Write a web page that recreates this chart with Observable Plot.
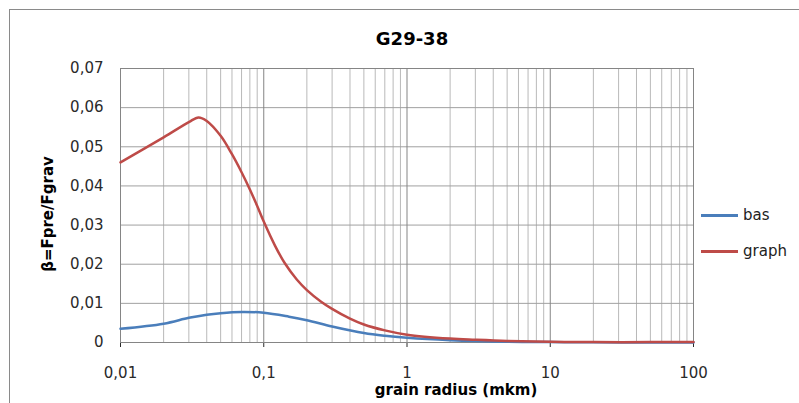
<!DOCTYPE html>
<html>
<head>
<meta charset="utf-8">
<script src="https://cdn.jsdelivr.net/npm/d3@7"></script>
<script src="https://cdn.jsdelivr.net/npm/@observablehq/plot@0.6"></script>
<style>
  html, body { margin: 0; padding: 0; background: #fff; }
  #wrap { position: relative; width: 799px; height: 403px; overflow: hidden; font-family: "DejaVu Sans", sans-serif; }
  #border { position: absolute; left: 9px; top: 9px; width: 820px; height: 420px; border: 1px solid #8a8a8a; box-sizing: border-box; }
  #title { position: absolute; left: 375px; width: 74px; top: 28px; text-align: center; font-weight: bold; font-size: 18px; line-height: 22px; color: #000; white-space: nowrap; }
  #ylab { position: absolute; left: 48px; top: 214px; transform: translate(-50%, -50%) rotate(-90deg); white-space: nowrap; font-weight: bold; font-size: 15px; line-height: 18px; color: #000; }
  #xlab { position: absolute; left: 456px; top: 381px; transform: translateX(-50%); white-space: nowrap; font-weight: bold; font-size: 15px; line-height: 18px; color: #000; }
  .leg { position: absolute; left: 701px; font-size: 15px; line-height: 18px; color: #222; display: flex; align-items: center; }
  .leg span.sw { display: inline-block; width: 37px; height: 3px; margin-right: 5px; }
  svg { position: absolute; left: 0; top: 0; }
</style>
</head>
<body>
<div id="wrap">
  <div id="border"></div>
  <div id="chart"></div>
  <div id="title">G29-38</div>
  <div id="ylab">β=Fpre/Fgrav</div>
  <div id="xlab">grain radius (mkm)</div>
</div>
<script>
const seriesNames = ["bas", "graph"];
const seriesColors = ["#4a7ebb", "#be4b48"];
const radiusBas = [0.01, 0.02, 0.03, 0.04, 0.05, 0.07, 0.1, 0.15, 0.2, 0.3, 0.5, 0.7, 1, 2, 5, 10, 20, 50, 100];
const bas =       [0.0035, 0.0048, 0.0063, 0.0071, 0.0075, 0.0078, 0.0076, 0.0066, 0.0057, 0.0041, 0.0024, 0.0017, 0.0012, 0.0006, 0.0002, 0.0001, 0.00005, 0, 0];
const radiusGraph = [0.01, 0.02, 0.03, 0.035, 0.04, 0.05, 0.06, 0.07, 0.08, 0.09, 0.1, 0.12, 0.14, 0.17, 0.2, 0.25, 0.3, 0.4, 0.5, 0.7, 1, 2, 3, 5, 10, 20, 50, 100];
const graph =       [0.0460, 0.0524, 0.0563, 0.0575, 0.0566, 0.0528, 0.0481, 0.0435, 0.0391, 0.0349, 0.0309, 0.0247, 0.0203, 0.0161, 0.0134, 0.0105, 0.0086, 0.0061, 0.0046, 0.0031, 0.0020, 0.0010, 0.0007, 0.0004, 0.0002, 0.0001, 0.0001, 0.0001];
const xTicks = [0.01, 0.1, 1, 10, 100];
const xTickLabels = ["0,01", "0,1", "1", "10", "100"];
const yTicks = [0, 0.01, 0.02, 0.03, 0.04, 0.05, 0.06, 0.07];
const yTickLabels = ["0", "0,01", "0,02", "0,03", "0,04", "0,05", "0,06", "0,07"];

const minorX = [];
for (let d = 0; d < 4; d++) for (let k = 2; k <= 9; k++) minorX.push(xTicks[d] * k);

const rows = [];
radiusBas.forEach((r, i) => rows.push({r, v: bas[i], s: "bas"}));
radiusGraph.forEach((r, i) => rows.push({r, v: graph[i], s: "graph"}));

const fmtX = d => { const i = xTicks.findIndex(t => Math.abs(t - d) < 1e-9 * Math.max(1, t)); return i >= 0 ? xTickLabels[i] : String(d).replace(".", ","); };
const fmtY = d => { const i = yTicks.findIndex(t => Math.abs(t - d) < 1e-9); return i >= 0 ? yTickLabels[i] : String(d).replace(".", ","); };

const chart = Plot.plot({
  width: 799,
  height: 403,
  marginLeft: 120,
  marginRight: 106,
  marginTop: 68,
  marginBottom: 61,
  style: {fontFamily: "'DejaVu Sans', sans-serif", fontSize: "15px", color: "#2a2a2a", background: "transparent"},
  x: {type: "log", domain: [0.01, 100], ticks: xTicks, tickFormat: fmtX, tickSize: 5, tickPadding: 20, label: null},
  y: {type: "linear", domain: [0, 0.07], ticks: yTicks, tickFormat: fmtY, tickSize: 0, tickPadding: 17, label: null},
  color: {domain: seriesNames, range: seriesColors},
  marks: [
    Plot.ruleX(minorX, {stroke: "#b9b9b9", strokeWidth: 1, strokeOpacity: 1}),
    Plot.ruleY(yTicks, {stroke: "#a0a0a0", strokeWidth: 1, strokeOpacity: 1}),
    Plot.ruleX(xTicks, {stroke: "#858585", strokeWidth: 1, strokeOpacity: 1}),
    Plot.frame({stroke: "#858585"}),
    Plot.line(rows, {x: "r", y: "v", z: "s", stroke: "s", strokeWidth: 2.5, curve: "catmull-rom"})
  ]
});
document.getElementById("chart").appendChild(chart);

const wrap = document.getElementById("wrap");
const legCenters = [215, 251];
seriesNames.forEach((n, i) => {
  const d = document.createElement("div");
  d.className = "leg";
  d.style.top = (legCenters[i] - 9) + "px";
  const sw = document.createElement("span");
  sw.className = "sw";
  sw.style.background = seriesColors[i];
  d.appendChild(sw);
  d.appendChild(document.createTextNode(n));
  wrap.appendChild(d);
});
</script>
</body>
</html>
